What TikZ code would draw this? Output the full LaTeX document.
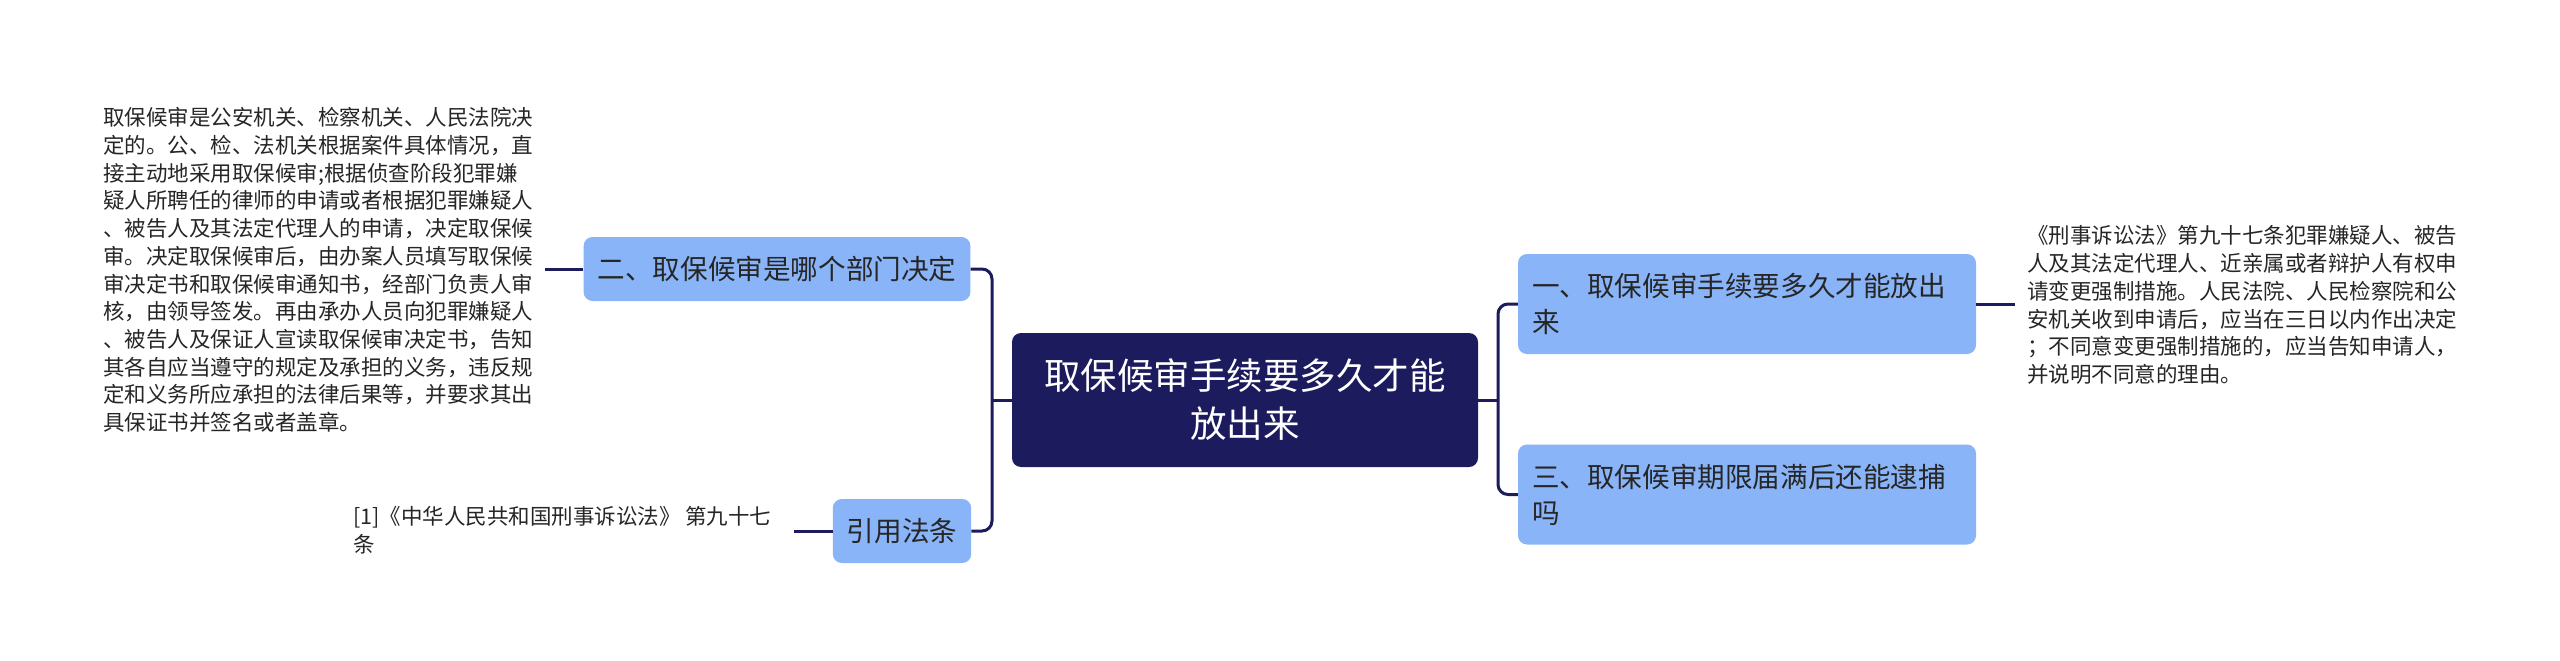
\documentclass[tikz,border=0pt]{standalone}
\usepackage{fontspec}
\newfontfamily\cjk{Noto Sans CJK SC}
\definecolor{navy}{HTML}{1C1B5E}
\definecolor{topicblue}{HTML}{8AB4F8}
\definecolor{topictext}{HTML}{262626}
\definecolor{leaftext}{HTML}{262626}
\begin{document}
\begin{tikzpicture}[x=1pt,y=-1pt,
  conn/.style={draw=navy,line width=3pt},
  central/.style={rectangle,rounded corners=9pt,fill=navy,text=white,font=\cjk\fontsize{36.5}{48}\selectfont,align=center,minimum width=466pt,minimum height=134pt,inner sep=0pt},
  topic/.style={rectangle,rounded corners=9pt,fill=topicblue,text=topictext,font=\cjk\fontsize{27.6}{36}\selectfont,align=left,inner xsep=14pt,inner ysep=0pt,minimum height=64pt},
  leaf/.style={text=leaftext,font=\cjk\fontsize{21.5}{27.7}\selectfont,align=left,inner sep=0pt}
]
\useasboundingbox[fill=white] (0,0) rectangle (2560,661);

\node[central] (c) at (1245,400) {取保候审手续要多久才能\\放出来};

\node[topic,text width=430pt,minimum height=100pt] (n1) at (1747,304) {一、取保候审手续要多久才能放出\\来};
\node[topic,text width=430pt,minimum height=100pt] (n3) at (1747,494.5) {三、取保候审期限届满后还能逮捕\\吗};
\node[topic] (n2) at (777,269) {二、取保候审是哪个部门决定};
\node[topic] (n4) at (902,531) {引用法条};

\node[leaf,anchor=west] (lt) at (103,270) {取保候审是公安机关、检察机关、人民法院决\\
定的。公、检、法机关根据案件具体情况，直\\
接主动地采用取保候审;根据侦查阶段犯罪嫌\\
疑人所聘任的律师的申请或者根据犯罪嫌疑人\\
、被告人及其法定代理人的申请，决定取保候\\
审。决定取保候审后，由办案人员填写取保候\\
审决定书和取保候审通知书，经部门负责人审\\
核，由领导签发。再由承办人员向犯罪嫌疑人\\
、被告人及保证人宣读取保候审决定书，告知\\
其各自应当遵守的规定及承担的义务，违反规\\
定和义务所应承担的法律后果等，并要求其出\\
具保证书并签名或者盖章。};

\node[leaf,anchor=west] (rt) at (2027,305) {《刑事诉讼法》第九十七条犯罪嫌疑人、被告\\
人及其法定代理人、近亲属或者辩护人有权申\\
请变更强制措施。人民法院、人民检察院和公\\
安机关收到申请后，应当在三日以内作出决定\\
；不同意变更强制措施的，应当告知申请人，\\
并说明不同意的理由。};

\node[leaf,anchor=west] (cite) at (353,530) {[1]《中华人民共和国刑事诉讼法》 第九十七\\条};

\coordinate (jl) at (992,400);
\coordinate (jr) at (1498,400);

\draw[conn] (c.west) -- (jl);
\draw[conn,rounded corners=10pt] (n2.east) -| (jl) |- (n4.east);
\draw[conn] (c.east) -- (jr);
\draw[conn,rounded corners=10pt] (n1.west) -| (jr) |- (n3.west);

\draw[conn] (n2.west) -- ([xshift=12pt]lt.east |- n2.west);
\draw[conn] (n4.west) -- ([xshift=22pt]cite.east |- n4.west);
\draw[conn] (n1.east) -- ([xshift=-12pt]rt.west |- n1.east);
\end{tikzpicture}
\end{document}
